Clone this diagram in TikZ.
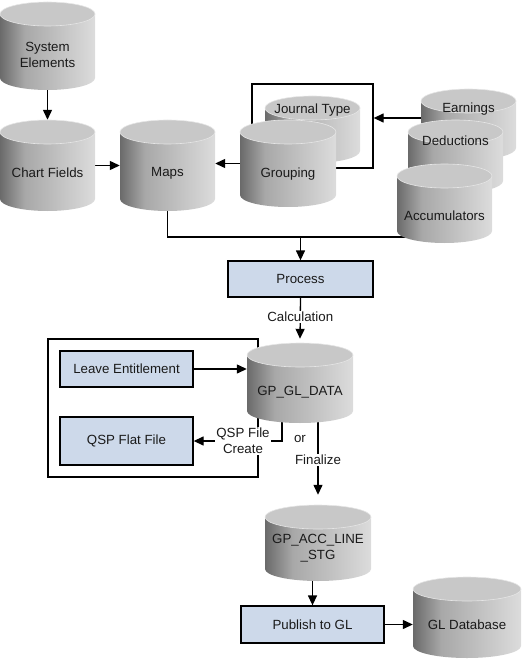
\documentclass[tikz,border=0pt]{standalone}
\usepackage{fontspec}
\setmainfont{Liberation Sans}
\usetikzlibrary{arrows.meta,calc}
\definecolor{cylA}{HTML}{6A6A6A}
\definecolor{cylB}{HTML}{A8A8A8}
\definecolor{cylC}{HTML}{DCDCDC}
\definecolor{cyltop}{HTML}{C8C8C8}
\definecolor{cylrim}{HTML}{E6E6E6}
\definecolor{boxfill}{HTML}{CDD9EA}
\definecolor{txt}{HTML}{1A1A1A}
\pgfdeclarehorizontalshading{cylshade}{100bp}{color(0bp)=(cylA); color(25bp)=(cylA); color(38bp)=(cylB); color(75bp)=(cylC); color(100bp)=(cylC)}
\pgfdeclarelayer{bg}
\pgfsetlayers{bg,main}
\tikzset{
  cylnode/.style={inner sep=0pt, draw=none},
  cyltxt/.style={inner sep=0pt, align=center, text=txt},
  procbox/.style={draw, line width=1.3pt, fill=boxfill, text=txt, inner sep=0pt},
  frame/.style={draw, line width=1.3pt, inner sep=0pt},
  lbl/.style={fill=white, inner sep=1pt, text=txt, align=center},
  plainlbl/.style={inner sep=0pt, text=txt},
  conn/.style={line width=1.3pt},
  arr/.style={line width=1.3pt, -{Triangle[length=10pt,width=9pt]}},
}
\newcommand\dbcyl[7]{%
  \pgfmathsetmacro\dbcx{(#2+#3)/2}%
  \pgfmathsetmacro\dbrx{(#3-#2)/2}%
  \pgfmathsetmacro\dbcy{(#4+#5)/2}%
  \pgfmathsetmacro\dbw{#3-#2}%
  \pgfmathsetmacro\dbh{#5-#4}%
  \shade[shading=cylshade] (#2,#4+12) -- (#2,#5-12) arc[start angle=180,end angle=360,x radius=\dbrx pt,y radius=12pt] -- (#3,#4+12) -- cycle;
  \draw[cylrim, line width=0.6pt, fill=cyltop] (\dbcx,#4+12) ellipse [x radius=\dbrx pt, y radius=12pt];
  \node[cylnode, minimum width=\dbw pt, minimum height=\dbh pt] (#1) at (\dbcx,\dbcy) {};
  \node[cyltxt] (#1-t) at (\dbcx,\dbcy+#7) {#6};
}
\begin{document}
\begin{tikzpicture}[x=1pt,y=-1pt, every node/.append style={font=\fontsize{13.3}{16}\selectfont}]
\useasboundingbox (0,0) rectangle (522,660);

% frames (on background)
\begin{pgfonlayer}{bg}
\node[frame, minimum width=121pt, minimum height=84pt] (jtbox) at (312.5,126) {};
\node[frame, minimum width=210pt, minimum height=138pt] (outer) at (153,408) {};
\end{pgfonlayer}

% cylinders
\dbcyl{sys}{0}{95}{2}{90}{System\\Elements}{9}
\dbcyl{cf}{0}{95}{120}{211}{Chart Fields}{7.5}
\dbcyl{maps}{120}{215}{120}{211}{Maps}{7.5}
\dbcyl{jt}{265}{360}{96}{163}{Journal Type}{-19.5}
\dbcyl{grp}{240}{336}{120}{207}{Grouping}{10.5}
\dbcyl{earn}{421}{516}{89}{160}{Earnings}{-15.5}
\dbcyl{ded}{408}{503}{120}{193}{Deductions}{-15.5}
\dbcyl{acc}{397}{492}{164}{243}{Accumulators}{12.5}
\dbcyl{gpgl}{247}{353}{343}{423}{GP\_GL\_DATA}{9}
\dbcyl{gpacc}{265}{371}{505}{581}{GP\_ACC\_LINE\\\_STG}{5}
\dbcyl{gldb}{413}{521}{577}{658}{GL Database}{7.5}

% process boxes
\node[procbox, minimum width=145pt, minimum height=36pt] (process) at (300.5,279) {Process};
\node[procbox, minimum width=133pt, minimum height=36pt] (le) at (126.5,369) {Leave Entitlement};
\node[procbox, minimum width=133pt, minimum height=48pt] (qsp) at (126.5,441) {QSP Flat File};
\node[procbox, minimum width=143pt, minimum height=37pt] (publish) at (312.5,624.5) {Publish to GL};

\coordinate (jn) at (300.5,237);

\begin{pgfonlayer}{bg}
\draw[arr] (sys.south) -- (cf.north);
\draw[arr] (cf.east) -- (maps.west);
\draw[arr] (grp.west) -- (grp.west -| maps.east);
\draw[arr] ([yshift=6.5pt]earn.west) -- ([yshift=6.5pt]earn.west -| jtbox.east);
\draw[conn] (maps.center) -- (maps.center |- jn) -- (jn -| acc.center);
\draw[arr] (jn) -- (process.north);
\draw[arr] (process.south) -- node[lbl, pos=0.47] (calc) {Calculation} ([yshift=4pt]gpgl.north);
\draw[arr] (le.east) -- (le.east -| gpgl.west);
\draw[arr] ([xshift=-18pt]gpgl.center) |- (qsp.east);
\node[lbl] (qsplbl) at (243,441) {QSP File\\Create};
\draw[arr] ([xshift=18pt]gpgl.center) -- ([yshift=10pt]gpacc.north);
\node[lbl] (fin) at (318,460) {Finalize};
\node[plainlbl] (orlbl) at (300,439) {or};
\draw[arr] (publish.north |- gpacc.center) -- (publish.north);
\draw[arr] (publish.east) -- (publish.east -| gldb.west);
\end{pgfonlayer}
\end{tikzpicture}
\end{document}
